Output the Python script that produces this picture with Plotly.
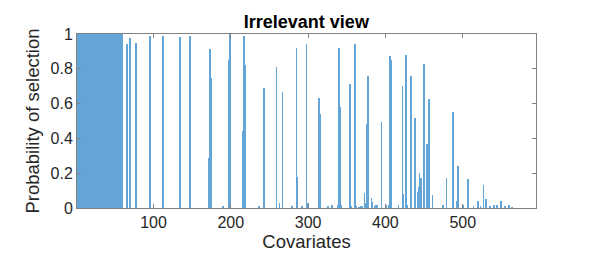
import plotly.graph_objects as go

n_covariates = 594

# probability of selection for covariates 1..60 (dense block)
dense_values = [1.0, 1.0, 1.0, 1.0, 1.0, 1.0, 1.0, 1.0, 1.0, 1.0,
                1.0, 1.0, 1.0, 1.0, 1.0, 1.0, 1.0, 1.0, 1.0, 1.0,
                1.0, 1.0, 1.0, 1.0, 1.0, 1.0, 1.0, 1.0, 1.0, 1.0,
                0.99, 1.0, 1.0, 1.0, 1.0, 1.0, 1.0, 1.0, 1.0, 1.0,
                1.0, 1.0, 1.0, 0.995, 1.0, 1.0, 1.0, 1.0, 1.0, 1.0,
                1.0, 1.0, 1.0, 1.0, 1.0, 1.0, 0.96, 1.0, 1.0, 1.0]

# sparse covariates (index, probability)
sparse_idx = [65, 66, 70, 77, 78, 95, 112, 134, 147,
              172, 173, 174, 190, 198, 199, 216, 217, 218, 236, 243, 259, 263, 267, 279,
              285, 286, 292, 298, 300,
              314, 316, 326, 331, 338, 340, 341, 343, 354, 356, 361, 362, 366, 368, 370,
              373, 374, 376, 377, 382, 383, 386, 388, 389, 395, 401, 405, 406, 407, 417,
              422, 423, 427, 428, 433, 438, 439, 442, 443, 444, 446, 450, 454, 456, 461,
              474, 479, 487, 488, 492, 494, 500, 507, 514, 520, 523, 527, 530, 535, 540,
              544, 549, 550, 555, 560, 563, 564]
sparse_val = [0.86, 0.94, 0.975, 0.95, 0.94, 0.99, 0.99, 0.98, 0.99,
              0.29, 0.915, 0.75, 0.01, 0.85, 1.0, 0.44, 0.99, 0.82, 0.01, 0.69, 0.81, 0.03, 0.665, 0.01,
              0.92, 0.18, 0.01, 0.94, 0.03,
              0.63, 0.54, 0.01, 0.015, 0.02, 0.92, 0.58, 0.02, 0.715, 0.01, 0.945, 0.01, 0.005, 0.01, 0.01,
              0.087, 0.03, 0.485, 0.76, 0.06, 0.035, 0.01, 0.02, 0.02, 0.495, 0.02, 0.02, 0.875, 0.85, 0.02,
              0.70, 0.08, 0.88, 0.02, 0.76, 0.515, 0.03, 0.09, 0.12, 0.2, 0.17, 0.83, 0.37, 0.625, 0.077,
              0.02, 0.17, 0.55, 0.15, 0.04, 0.24, 0.02, 0.165, 0.01, 0.04, 0.01, 0.135, 0.05, 0.01, 0.015,
              0.015, 0.015, 0.04, 0.01, 0.02, 0.005, 0.005]

x_ticks = [100, 200, 300, 400, 500]
y_ticks = [0, 0.2, 0.4, 0.6, 0.8, 1]
y_tick_labels = ["0", "0.2", "0.4", "0.6", "0.8", "1"]

covariates = list(range(1, n_covariates + 1))
probs = [0.0] * n_covariates
for i, v in enumerate(dense_values):
    probs[i] = v
for i, v in zip(sparse_idx, sparse_val):
    probs[i - 1] = v

bar_color = "rgb(98,165,214)"
fig = go.Figure(go.Bar(x=covariates, y=probs, width=1.0,
                       marker=dict(color=bar_color, line=dict(width=0))))

axis_col = "rgb(128,128,128)"
font_col = "rgb(38,38,38)"
fig.update_layout(
    width=592, height=261,
    margin=dict(l=77, r=56, t=34, b=53, autoexpand=False),
    paper_bgcolor="white", plot_bgcolor="white",
    bargap=0, showlegend=False,
    font=dict(family="Liberation Sans, Arial, sans-serif", color=font_col),
    title=dict(text="<b>Irrelevant view</b>", x=0.5175, xanchor="center",
               y=0.915, yanchor="middle",
               font=dict(size=18, color="black")),
)
fig.update_xaxes(range=[1, 594.8], tickvals=x_ticks, ticks="inside", ticklen=4,
                 tickcolor=axis_col, showline=True, linecolor=axis_col, linewidth=1,
                 mirror="ticks", showgrid=False, zeroline=False, automargin=False,
                 tickfont=dict(size=16, color=font_col),
                 title=dict(text="Covariates", font=dict(size=18.5, color=font_col), standoff=0))
fig.update_yaxes(range=[0, 1], tickvals=y_ticks, ticktext=y_tick_labels, ticks="inside",
                 ticklen=4, tickcolor=axis_col, showline=True, linecolor=axis_col, linewidth=1,
                 mirror="ticks", showgrid=False, zeroline=False, automargin=False,
                 tickfont=dict(size=16, color=font_col),
                 title=dict(text="Probability of selection", font=dict(size=18.5, color=font_col),
                            standoff=6))

fig.write_html("out.html", config={"displayModeBar": False},
               post_script="document.body.style.margin='0';document.body.style.padding='0';")
